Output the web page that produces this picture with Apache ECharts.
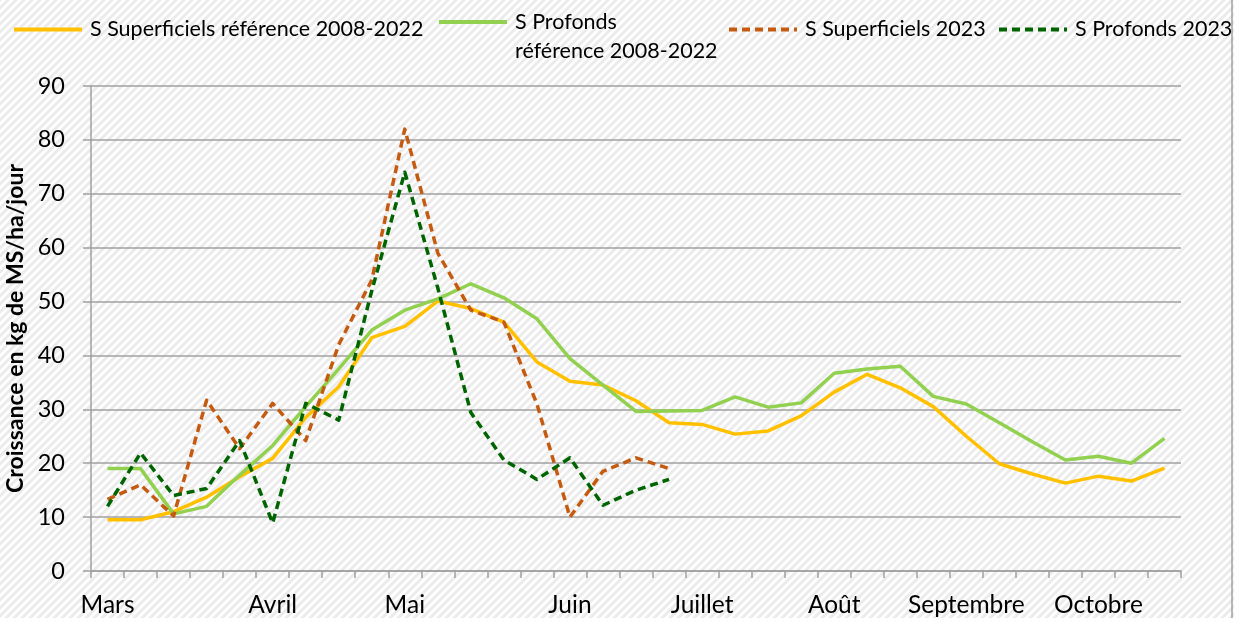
<!DOCTYPE html>
<html><head><meta charset="utf-8">
<script src="https://cdn.jsdelivr.net/npm/echarts@6/dist/echarts.min.js"></script>
<style>html,body{margin:0;padding:0;background:#fff}#c{width:1234px;height:618px}</style>
</head><body><div id="c"></div>
<script>
const categories = ['Mars','','','','','Avril','','','','Mai','','','','','Juin','','','','Juillet','','','','Août','','','','Septembre','','','','Octobre','',''];
const supRef = [9.5,9.5,11,13.7,17.5,20.9,28.5,34.2,43.3,45.4,50.1,48.7,46.2,38.8,35.2,34.5,31.6,27.5,27.2,25.4,26.0,28.8,33.2,36.5,34.0,30.5,25.0,19.9,18.0,16.3,17.6,16.7,19.1];
const profRef = [19,19,10.6,12.0,17.8,23.3,30.5,37.5,44.7,48.4,50.5,53.3,50.7,46.8,39.4,34.5,29.6,29.7,29.8,32.3,30.4,31.2,36.7,37.5,38.0,32.4,31.0,27.5,24.0,20.6,21.3,20.0,24.6];
const sup2023 = [13.3,16.0,10.2,31.7,22.7,31.1,24.2,42,54,82,59,48.4,46.2,31,10,18.5,21,19];
const prof2023 = [12,21.9,14,15.3,24.2,8.9,31.1,28,52,74,52.5,29.4,20.6,17,21,12.2,15,17];
const names = ['S Superficiels référence 2008-2022','S Profonds\nréférence 2008-2022','S Superficiels 2023','S Profonds 2023'];
const colors = ['#FFC000','#92D050','#C55A11','#006400'];

const pc = document.createElement('canvas');
pc.width = 8; pc.height = 8;
const g = pc.getContext('2d');
g.fillStyle = '#ffffff'; g.fillRect(0,0,8,8);
g.strokeStyle = '#ebebeb'; g.lineWidth = 3;
g.beginPath();
g.moveTo(-2,10); g.lineTo(10,-2);
g.moveTo(-6,6); g.lineTo(6,-6);
g.moveTo(2,14); g.lineTo(14,2);
g.stroke();

const FONT = 'Lato';
const chart = echarts.init(document.getElementById('c'));
const legendLefts = [12, 437, 727, 997];
const legends = names.map((n,i)=>({
  data:[n], left: legendLefts[i], top: i===1 ? -21.5 : 15, padding:0, itemWidth:68, itemHeight:14, itemGap:0,
  itemStyle:{opacity:0}, lineStyle:{width:4},
  formatter: i===1 ? (s)=>'\n'+s : '{name}',
  textStyle:{fontFamily:FONT, fontSize:21.5, color:'#000', lineHeight:29, padding:[0,0,0,3]}
}));
const series = [supRef, profRef, sup2023, prof2023].map((d,i)=>({
  name: names[i], type:'line', data:d, symbol:'none', showSymbol:false, smooth:false, animation:false,
  lineStyle:{color:colors[i], width:3.5, type: i>=2?[8,5]:'solid', join:'round'},
  itemStyle:{color:colors[i]}, z: i>=2?3:2
}));
chart.setOption({
  backgroundColor:{image:pc, repeat:'repeat'},
  animation:false,
  legend: legends,
  grid:{left:91, right:53, top:86, bottom:47, containLabel:false, outerBoundsMode:'none'},
  xAxis:{type:'category', data:categories, boundaryGap:true,
    axisLine:{lineStyle:{color:'#a0a0a0', width:1.5}},
    axisTick:{show:true, interval:0, length:7, lineStyle:{color:'#a0a0a0', width:1.5}},
    axisLabel:{interval:0, fontFamily:FONT, fontSize:24.5, color:'#000', margin:22}},
  yAxis:{type:'value', min:0, max:90, interval:10,
    name:'Croissance en kg de MS/ha/jour', nameLocation:'middle', nameGap:61, nameRotate:90,
    nameTextStyle:{fontFamily:FONT, fontSize:23, fontWeight:'bold', color:'#000'},
    axisLine:{show:true, lineStyle:{color:'#a0a0a0', width:1.5}},
    axisTick:{show:true, length:8, lineStyle:{color:'#a0a0a0', width:1.5}},
    splitLine:{lineStyle:{color:'#a0a0a0', width:1.5}},
    axisLabel:{fontFamily:FONT, fontSize:23.5, color:'#000', margin:26}},
  graphic:[{type:'line', shape:{x1:1232, y1:0, x2:1232, y2:618}, style:{stroke:'#a0a0a0', lineWidth:1.5}}],
  series: series
});
</script></body></html>
